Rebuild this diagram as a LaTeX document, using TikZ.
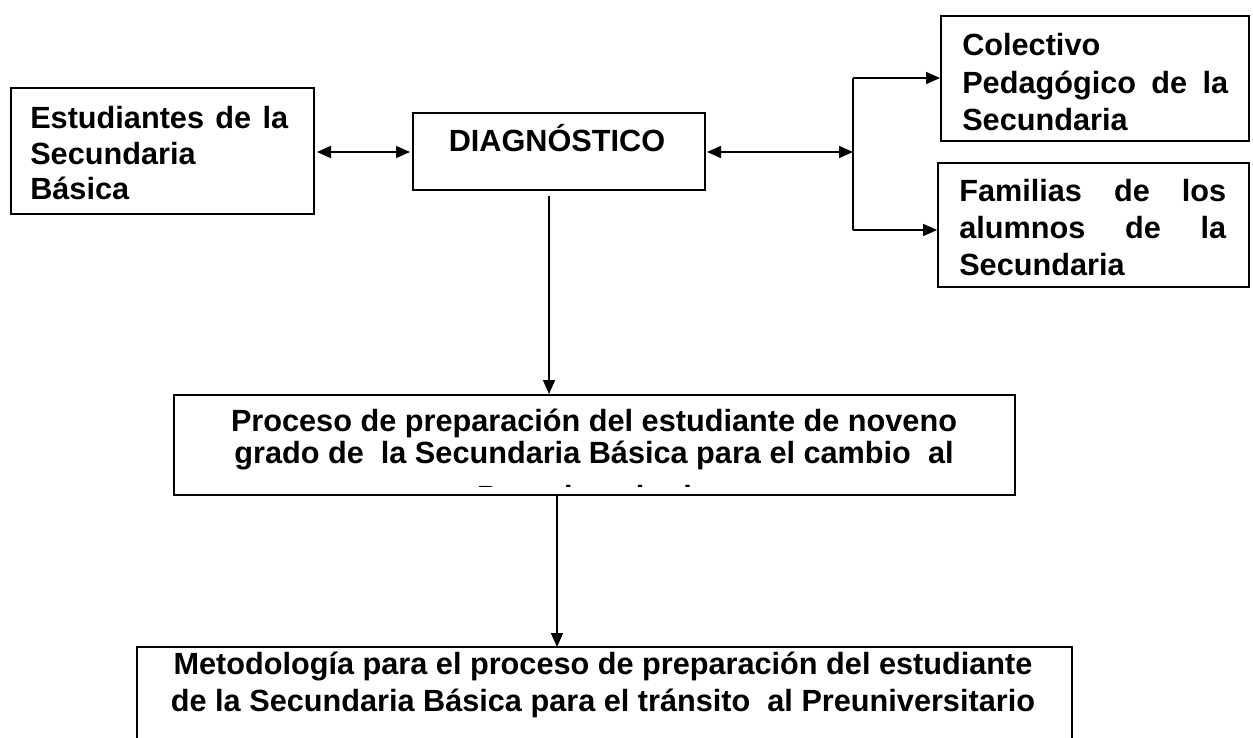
\documentclass[tikz,border=0pt]{standalone}
\usepackage{fontspec}
\setmainfont{Liberation Sans}
\usetikzlibrary{arrows.meta}
\begin{document}
\begin{tikzpicture}[x=0.75pt,y=-0.75pt,
  box/.style={draw,line width=1.5pt,inner sep=0pt,anchor=north west},
  tip/.tip={Triangle[length=10.5pt,width=9pt]},
  arr/.style={line width=1.1pt,-tip},
  darr/.style={line width=1.1pt,tip-tip},
  plain/.style={line width=1.1pt},
  txt/.style={inner sep=0pt,font=\bfseries\fontsize{23pt}{27.4pt}\selectfont},
  wtxt/.style={inner sep=0pt,font=\bfseries\fontsize{23pt}{24pt}\selectfont},
]
\useasboundingbox (0,0) rectangle (1253,738);
\fill[white] (0,0) rectangle (1253,738);

% boxes
\node[box,minimum width=227.25pt,minimum height=94.5pt] (est) at (10,87) {};
\node[box,minimum width=219pt,minimum height=57.75pt] (diag) at (412,112) {};
\node[box,minimum width=231pt,minimum height=93.75pt] (col) at (940,15) {};
\node[box,minimum width=233.25pt,minimum height=93pt] (fam) at (937,162) {};
\node[box,minimum width=630.75pt,minimum height=75pt] (proc) at (173,394) {};
\coordinate (mettop) at (557,647);
\draw[line width=1.5pt] (137,760) -- (137,647) -- (1072,647) -- (1072,760);

% texts
\node[txt,anchor=base west] (estT) at (30,129)
  {\parbox[t]{193.5pt}{\baselineskip=26.5pt\makebox[193.5pt][s]{Estudiantes de la}\\Secundaria\\Básica}};
\node[txt,anchor=base] (diagT) at (557,152) {DIAGNÓSTICO};
\node[txt,anchor=base west] (colT) at (962,56)
  {\parbox[t]{199.5pt}{\baselineskip=28pt Colectivo\\\makebox[199.5pt][s]{Pedagógico de la}\\Secundaria}};
\node[txt,anchor=base west] (famT) at (959,201)
  {\parbox[t]{200.25pt}{\baselineskip=28pt\makebox[200.25pt][s]{Familias de los}\\\makebox[200.25pt][s]{alumnos de la}\\Secundaria}};
\begin{scope}
  \clip (173,394) rectangle (1014,486);
  \node[wtxt,anchor=base] (procT) at (594,431)
    {\parbox[t]{750pt}{\centering\baselineskip=24pt Proceso de preparación del estudiante de noveno\\grado de~ la Secundaria Básica para el cambio~ al\\[9pt]Preuniversitario}};
\end{scope}
\node[wtxt,anchor=base] (metT) at (603,674)
  {\parbox[t]{750pt}{\centering\baselineskip=27.75pt Metodología para el proceso de preparación del estudiante\\de la Secundaria Básica para el tránsito~ al Preuniversitario}};

% connectors
\coordinate (a1) at (317,152);
\coordinate (a2) at (410,152);
\draw[darr] (a1) -- (a2);
\coordinate (b1) at (707,152);
\coordinate (br) at (853,152);
\draw[darr] (b1) -- (br);
\coordinate (bt) at (853,78);
\coordinate (bb) at (853,230);
\draw[plain] (bt) -- (bb);
\draw[arr] (bt) -- (bt -| col.west);
\draw[arr] (bb) -- (bb -| fam.west);
\coordinate (d1) at (549,196);
\draw[arr] (d1) -- (d1 |- proc.north);
\draw[arr] (mettop |- proc.south) -- (mettop);
\end{tikzpicture}
\end{document}
